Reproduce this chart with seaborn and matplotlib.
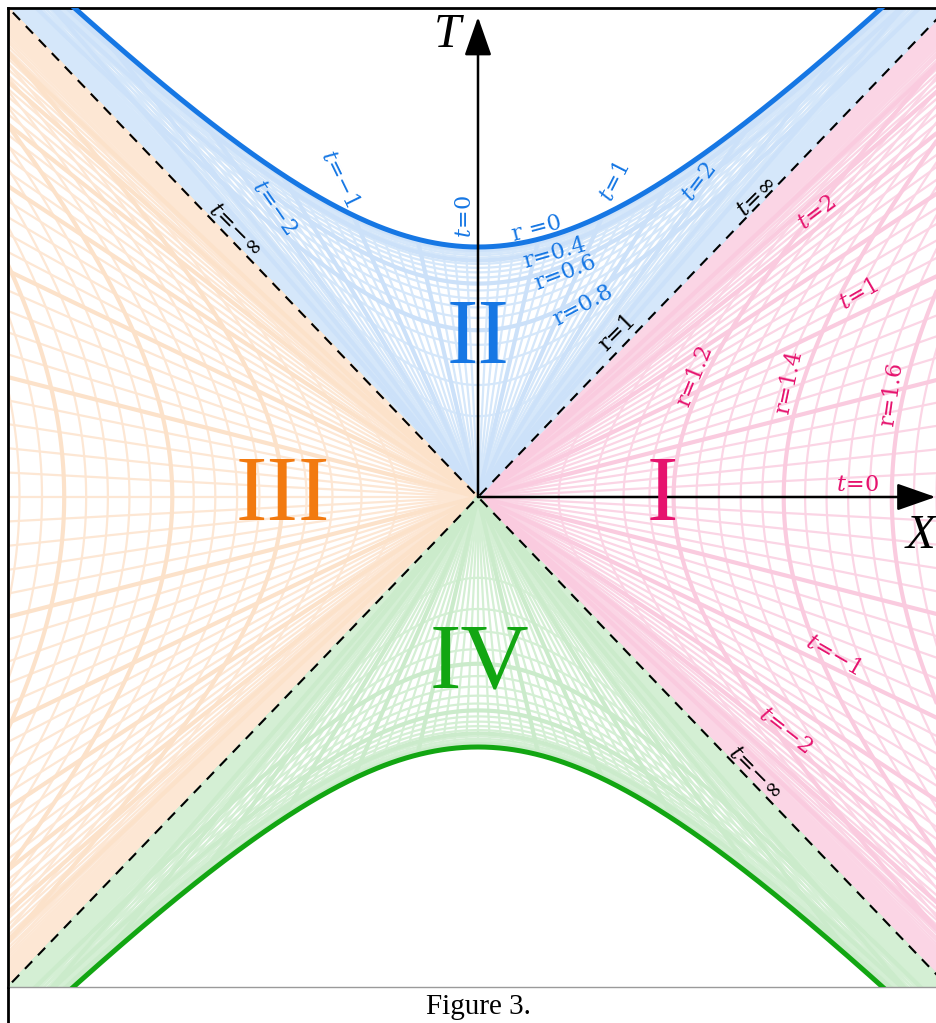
import numpy as np
import pandas as pd
import matplotlib
matplotlib.use('Agg')
import matplotlib.pyplot as plt
from matplotlib.colors import to_rgb
from matplotlib.collections import LineCollection
import seaborn as sns

# region colours
BLUE = '#1677e4'
PINK = '#e6136e'
ORANGE = '#f27a10'
GREEN = '#12a612'

# Schwarzschild coordinates (r in units of 2M) used for the grid
r_outside_major = [1.2, 1.4, 1.6, 1.8]
r_inside_major = [0.2, 0.4, 0.6, 0.8]
t_major = [-3, -2.5, -2, -1.5, -1, -0.5, 0.5, 1, 1.5, 2, 2.5, 3]
r_step = 0.04
t_step = 0.1
t_max = 8

# labelled coordinate lines
labels_II = ['$t\\!=\\!0$', '$t\\!=\\!1$', '$t\\!=\\!2$', '$t\\!=\\!{-}1$', '$t\\!=\\!{-}2$',
             'r =0', 'r=0.4', 'r=0.6', 'r=0.8']
labels_I = ['$t\\!=\\!2$', '$t\\!=\\!1$', 'r=1.2', 'r=1.4', 'r=1.6', '$t\\!=\\!0$',
            '$t\\!=\\!{-}1$', '$t\\!=\\!{-}2$']
labels_horizon = ['r=1', '$t\\!=\\!\\infty$', '$t\\!=\\!{-}\\infty$', '$t\\!=\\!{-}\\infty$']
regions = ['I', 'II', 'III', 'IV']

# label placement (X, T, rotation)
pos_II = [(-0.054, 1.125, 90), (0.571, 1.262, 63), (0.925, 1.258, 53), (-0.575, 1.272, -64),
          (-0.85, 1.157, -55), (0.246, 1.072, 15), (0.321, 0.976, 16), (0.3625, 0.896, 21),
          (0.4375, 0.765, 28)]
pos_I = [(1.412, 1.136, 37), (1.59, 0.808, 30), (0.905, 0.484, 68), (1.298, 0.458, 78),
         (1.725, 0.41, 82), (1.583, 0.048, 0), (1.479, -0.632, -30), (1.28, -0.935, -38)]
pos_horizon = [(0.582, 0.658, 45), (1.162, 1.202, 45), (-1.0125, 1.068, -45), (1.155, -1.102, -45)]
pos_regions = [(0.767, 0.0), (0.0, 0.628), (-0.8125, 0.0), (0.008, -0.672)]
colors_regions = [PINK, BLUE, ORANGE, GREEN]


def pale(col, a):
    c = np.array(to_rgb(col))
    return tuple(1 - a * (1 - c))


def exterior(r, t, side):
    a = np.sqrt((r - 1) * np.exp(r))
    return side * a * np.cosh(t / 2), a * np.sinh(t / 2)


def interior(r, t, side):
    a = np.sqrt((1 - r) * np.exp(r))
    return a * np.sinh(t / 2), side * a * np.cosh(t / 2)


def is_major(v, majors):
    return any(abs(v - m) < 1e-6 for m in majors)


def grid_segments(kind, side):
    ts = np.linspace(-12, 12, 1500)
    fine, major = [], []
    if kind == 'ext':
        for r in np.arange(1 + r_step, 2.0, r_step):
            x, y = exterior(r, ts, side)
            (major if is_major(r, r_outside_major) else fine).append(np.column_stack([x, y]))
        for t in np.arange(-t_max, t_max + 1e-9, t_step):
            seg = np.array([[0, 0], [side * 4, 4 * np.tanh(t / 2)]])
            (major if is_major(t, t_major) else fine).append(seg)
    else:
        for r in np.arange(r_step, 1.0 - 1e-9, r_step):
            x, y = interior(r, ts, side)
            (major if is_major(r, r_inside_major) else fine).append(np.column_stack([x, y]))
        for t in np.arange(-t_max, t_max + 1e-9, t_step):
            seg = np.array([[0, 0], [np.sinh(t / 2), side * np.cosh(t / 2)]])
            (major if is_major(t, t_major) else fine).append(seg)
    return fine, major


sns.set_theme(style='white')
plt.rcParams['mathtext.fontset'] = 'dejavuserif'
plt.rcParams['font.family'] = ['DejaVu Serif']
plt.rcParams['text.color'] = 'black'

fig = plt.figure(figsize=(9.36, 10.23), dpi=100)
ax = fig.add_axes([8 / 936, 1 - 987 / 1023, 928 / 936, 979 / 1023])
ax.set_xlim(-1.958, 1.908)
ax.set_ylim(-1.96, 1.956)

for kind, side, col in [('ext', 1, PINK), ('int', 1, BLUE), ('ext', -1, ORANGE), ('int', -1, GREEN)]:
    fine, major = grid_segments(kind, side)
    ax.add_collection(LineCollection(fine, colors=[pale(col, 0.18)], linewidths=1.6, zorder=1))
    ax.add_collection(LineCollection(major, colors=[pale(col, 0.22)], linewidths=3.0, zorder=1.1))

# horizons
diag = np.array([-2.2, 2.2])
ax.plot(diag, diag, color='black', lw=1.5, dashes=(5, 4), zorder=3)
ax.plot(diag, -diag, color='black', lw=1.5, dashes=(5, 4), zorder=3)

# singularities r = 0
xs = np.linspace(-2.1, 2.1, 421)
sing = pd.DataFrame({'X': xs, 'T': np.sqrt(1 + xs ** 2)})
sns.lineplot(data=sing, x='X', y='T', color=BLUE, lw=3.6, estimator=None, sort=False, ax=ax, zorder=4)
sing_past = pd.DataFrame({'X': xs, 'T': -np.sqrt(1 + xs ** 2)})
sns.lineplot(data=sing_past, x='X', y='T', color=GREEN, lw=3.6, estimator=None, sort=False, ax=ax, zorder=4)

# axes arrows
arrow = dict(arrowstyle='-|>,head_length=1.2,head_width=0.42', color='black', lw=1.8,
             mutation_scale=20, shrinkA=0, shrinkB=0)
ax.annotate('', xy=(0, 1.92), xytext=(0, 0), arrowprops=arrow, zorder=5)
ax.annotate('', xy=(1.906, 0), xytext=(0, 0), arrowprops=arrow, zorder=5)
ax.text(-0.129, 1.848, 'T', family='Liberation Serif', style='italic', fontsize=35,
        color='black', ha='center', va='center', zorder=6)
ax.text(1.845, -0.155, 'X', family='Liberation Serif', style='italic', fontsize=35,
        color='black', ha='center', va='center', zorder=6, clip_on=False)

for txt, (x, y, rot) in zip(labels_II, pos_II):
    ax.text(x, y, txt, color=BLUE, fontsize=16, rotation=rot, ha='center', va='center',
            rotation_mode='anchor', zorder=6)
for txt, (x, y, rot) in zip(labels_I, pos_I):
    ax.text(x, y, txt, color=PINK, fontsize=16, rotation=rot, ha='center', va='center',
            rotation_mode='anchor', zorder=6)
for txt, (x, y, rot) in zip(labels_horizon, pos_horizon):
    ax.text(x, y, txt, color='black', fontsize=16, rotation=rot, ha='center', va='center',
            rotation_mode='anchor', zorder=6)
for txt, (x, y), col in zip(regions, pos_regions, colors_regions):
    ax.text(x, y, txt, color=col, fontsize=68, family='Liberation Serif', ha='center',
            va='center', zorder=6)

ax.set_xticks([])
ax.set_yticks([])
ax.set_xlabel('')
ax.set_ylabel('')
ax.spines['right'].set_visible(False)
for s in ['left', 'top']:
    ax.spines[s].set_color('black')
    ax.spines[s].set_linewidth(2)
ax.spines['bottom'].set_color('#9a9a9a')
ax.spines['bottom'].set_linewidth(1)
fig.add_artist(plt.Line2D([8 / 936, 8 / 936], [0, 1 - 987 / 1023], color='black', lw=2,
                          transform=fig.transFigure))
fig.text(478 / 936, 1 - 1007 / 1023, 'Figure 3.', family='Liberation Serif', fontsize=21,
         color='black', ha='center', va='center')

fig.savefig('out.png', dpi=100)
